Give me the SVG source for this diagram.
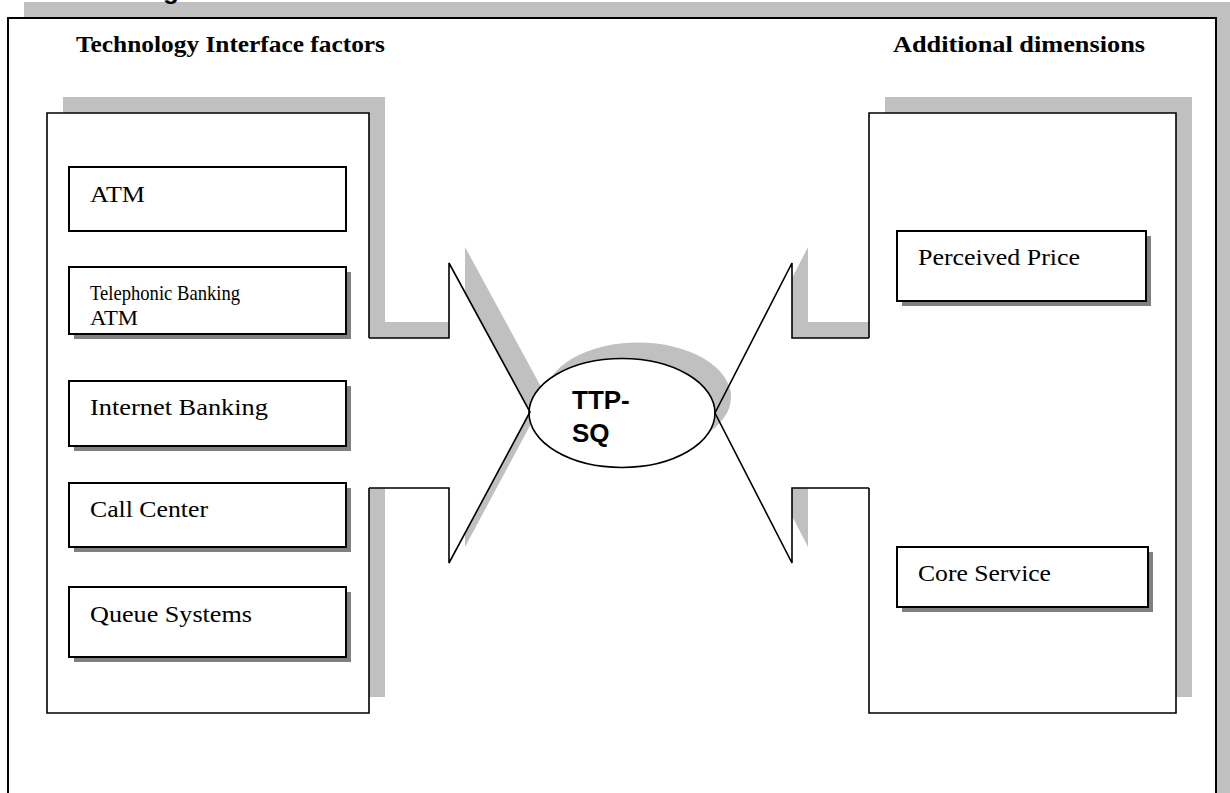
<svg xmlns="http://www.w3.org/2000/svg" xmlns:xlink="http://www.w3.org/1999/xlink" width="1230" height="793" viewBox="0 0 1230 793">
  <style>
    .shadow { fill: #c0c0c0; }
    .fill { fill: #ffffff; stroke: none; }
    .outline { fill: none; stroke: #000; stroke-width: 1.6; }
    .box { fill: #ffffff; stroke: #000; stroke-width: 2; }
    .boxsh { fill: #808080; }
    .wedge { fill: none; stroke: #000; stroke-width: 1.6; stroke-linejoin: miter; }
    .lbl { font-family: "Liberation Serif", "Times New Roman", serif; font-size: 24px; fill: #000; }
    .lbl2 { font-family: "Liberation Serif", "Times New Roman", serif; font-size: 21px; fill: #000; }
    .hd { font-family: "Liberation Serif", "Times New Roman", serif; font-size: 24px; font-weight: bold; fill: #000; }
    .tt { font-family: "Liberation Sans", Arial, sans-serif; font-size: 26px; font-weight: bold; fill: #000; }
  </style>
  <defs>
    <path id="leftShape" d="M47,113 H369 V338 H449 V263 L530,412 L449,563 V488 H369 V713 H47 Z"/>
    <path id="rightShape" d="M869,113 H1176 V713 H869 V488 H792 V563 L715,413 L792,263 V338 H869 Z"/>
  </defs>

  <rect width="1230" height="793" fill="#ffffff"/>

  <g id="frame">
    <rect x="24" y="2" width="1220" height="820" class="shadow"/>
    <rect x="8" y="18" width="1208" height="800" fill="#ffffff" stroke="#000" stroke-width="2"/>
    <text x="163" y="-1" class="tt" font-size="24">g</text>
  </g>

  <g id="heading-left">
    <text x="76" y="52" class="hd" textLength="309" lengthAdjust="spacingAndGlyphs">Technology Interface factors</text>
  </g>
  <g id="heading-right">
    <text x="893" y="52" class="hd" textLength="252" lengthAdjust="spacingAndGlyphs">Additional dimensions</text>
  </g>

  <g id="left-panel">
    <use xlink:href="#leftShape" href="#leftShape" class="shadow" transform="translate(16,-16)"/>
    <use xlink:href="#leftShape" href="#leftShape" class="fill"/>
    <path class="outline" d="M369,338 V113 H47 V713 H369 V488"/>
  </g>

  <g id="right-panel">
    <use xlink:href="#rightShape" href="#rightShape" class="shadow" transform="translate(16,-16)"/>
    <use xlink:href="#rightShape" href="#rightShape" class="fill"/>
    <path class="outline" d="M869,338 V113 H1176 V713 H869 V488"/>
  </g>

  <g id="ttp-sq">
    <ellipse cx="638" cy="397" rx="93" ry="54.5" class="shadow"/>
    <ellipse cx="622" cy="413" rx="93" ry="54.5" fill="#ffffff" stroke="#000" stroke-width="1.6"/>
    <text x="572" y="409" class="tt">TTP-</text>
    <text x="572" y="442" class="tt">SQ</text>
  </g>

  <g id="connectors">
    <polyline class="wedge" points="369,338 449,338 449,263 530,412 449,563 449,488 369,488"/>
    <polyline class="wedge" points="869,338 792,338 792,263 715,413 792,563 792,488 869,488"/>
  </g>

  <g id="atm">
    <rect x="69" y="167" width="277" height="64" class="box"/>
    <text x="90" y="202" class="lbl" textLength="55" lengthAdjust="spacingAndGlyphs">ATM</text>
  </g>

  <g id="telephonic-banking">
    <rect x="74" y="272" width="277" height="67" class="boxsh"/>
    <rect x="69" y="267" width="277" height="67" class="box"/>
    <text x="90" y="300" class="lbl2" textLength="150" lengthAdjust="spacingAndGlyphs">Telephonic Banking</text>
    <text x="90" y="325" class="lbl2" textLength="48" lengthAdjust="spacingAndGlyphs">ATM</text>
  </g>

  <g id="internet-banking">
    <rect x="74" y="386" width="277" height="65" class="boxsh"/>
    <rect x="69" y="381" width="277" height="65" class="box"/>
    <text x="90" y="415" class="lbl" textLength="178" lengthAdjust="spacingAndGlyphs">Internet Banking</text>
  </g>

  <g id="call-center">
    <rect x="74" y="488" width="277" height="64" class="boxsh"/>
    <rect x="69" y="483" width="277" height="64" class="box"/>
    <text x="90" y="517" class="lbl" textLength="118" lengthAdjust="spacingAndGlyphs">Call Center</text>
  </g>

  <g id="queue-systems">
    <rect x="74" y="592" width="277" height="70" class="boxsh"/>
    <rect x="69" y="587" width="277" height="70" class="box"/>
    <text x="90" y="622" class="lbl" textLength="162" lengthAdjust="spacingAndGlyphs">Queue Systems</text>
  </g>

  <g id="perceived-price">
    <rect x="902" y="236" width="249" height="70" class="boxsh"/>
    <rect x="897" y="231" width="249" height="70" class="box"/>
    <text x="918" y="265" class="lbl" textLength="162" lengthAdjust="spacingAndGlyphs">Perceived Price</text>
  </g>

  <g id="core-service">
    <rect x="902" y="552" width="251" height="60" class="boxsh"/>
    <rect x="897" y="547" width="251" height="60" class="box"/>
    <text x="918" y="581" class="lbl" textLength="133" lengthAdjust="spacingAndGlyphs">Core Service</text>
  </g>
</svg>
